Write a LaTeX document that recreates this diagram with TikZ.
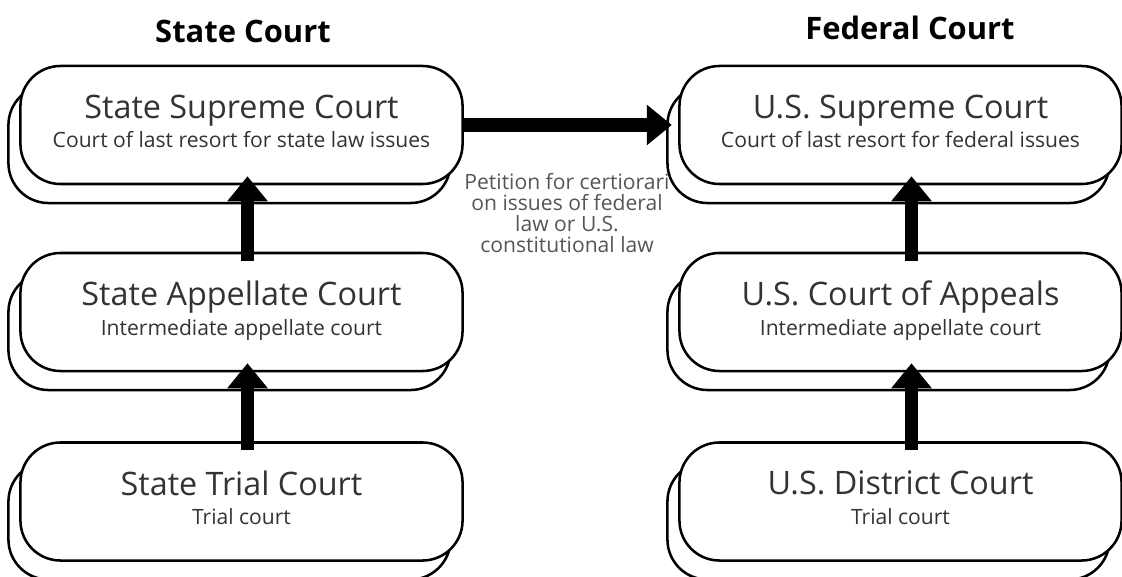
\documentclass[tikz,border=0pt]{standalone}
\usepackage{fontspec}
\setmainfont{Open Sans}
\usetikzlibrary{arrows.meta,shadows}
\definecolor{courttext}{HTML}{333333}
\definecolor{notetext}{HTML}{555555}
\tikzset{
  court/.style={draw, line width=1.8pt, fill=white, rounded corners=1cm,
    minimum width=11.05cm, minimum height=2.95cm, align=center, text=courttext,
    copy shadow={shadow xshift=-0.3cm, shadow yshift=-0.475cm, draw=black, fill=white, line width=1.8pt}},
  heading/.style={font=\bfseries\fontsize{22}{24}\selectfont},
  note/.style={align=center, text=notetext, font=\fontsize{15}{15}\selectfont},
  bigarrow/.style={line width=0.325cm, -{Triangle[width=0.975cm,length=0.625cm]}},
}
\newcommand{\courtname}[2]{{\fontsize{23}{24}\selectfont #1\strut}\\{\fontsize{15}{18}\selectfont\strut #2}}
\begin{document}
\begin{tikzpicture}[x=0.025cm, y=-0.025cm]
\useasboundingbox (0,0) rectangle (1122,577);
\node[heading] (shead) at (243,31) {State Court};
\node[heading] (fhead) at (910,28) {Federal Court};
\node[court] (ssup) at (241.5,125) {\courtname{State Supreme Court}{Court of last resort for state law issues}};
\node[court] (sapp) at (241.5,312) {\courtname{State Appellate Court}{Intermediate appellate court}};
\node[court] (strial) at (241.5,501.5) {\courtname{State Trial Court}{Trial court}};
\node[court] (fsup) at (900.5,125) {\courtname{U.S. Supreme Court}{Court of last resort for federal issues}};
\node[court] (fapp) at (900.5,312) {\courtname{U.S. Court of Appeals}{Intermediate appellate court}};
\node[court] (ftrial) at (900.5,501.5) {\courtname{U.S. District Court}{Trial court}};
\node[note] (petition) at (567,213) {Petition for certiorari\\ on issues of federal\\ law or U.S.\\ constitutional law};
% appeals upward
\draw[bigarrow, shorten <=-0.225cm, shorten >=-0.225cm] ([xshift=0.15cm]strial.north) -- ([xshift=0.15cm]sapp.south);
\draw[bigarrow, shorten <=-0.225cm, shorten >=-0.225cm] ([xshift=0.15cm]sapp.north) -- ([xshift=0.15cm]ssup.south);
\draw[bigarrow, shorten <=-0.225cm, shorten >=-0.225cm] ([xshift=0.275cm]ftrial.north) -- ([xshift=0.275cm]fapp.south);
\draw[bigarrow, shorten <=-0.225cm, shorten >=-0.225cm] ([xshift=0.275cm]fapp.north) -- ([xshift=0.275cm]fsup.south);
\draw[bigarrow, shorten >=0.16cm] (ssup.east) -- (fsup.west);
\end{tikzpicture}
\end{document}
